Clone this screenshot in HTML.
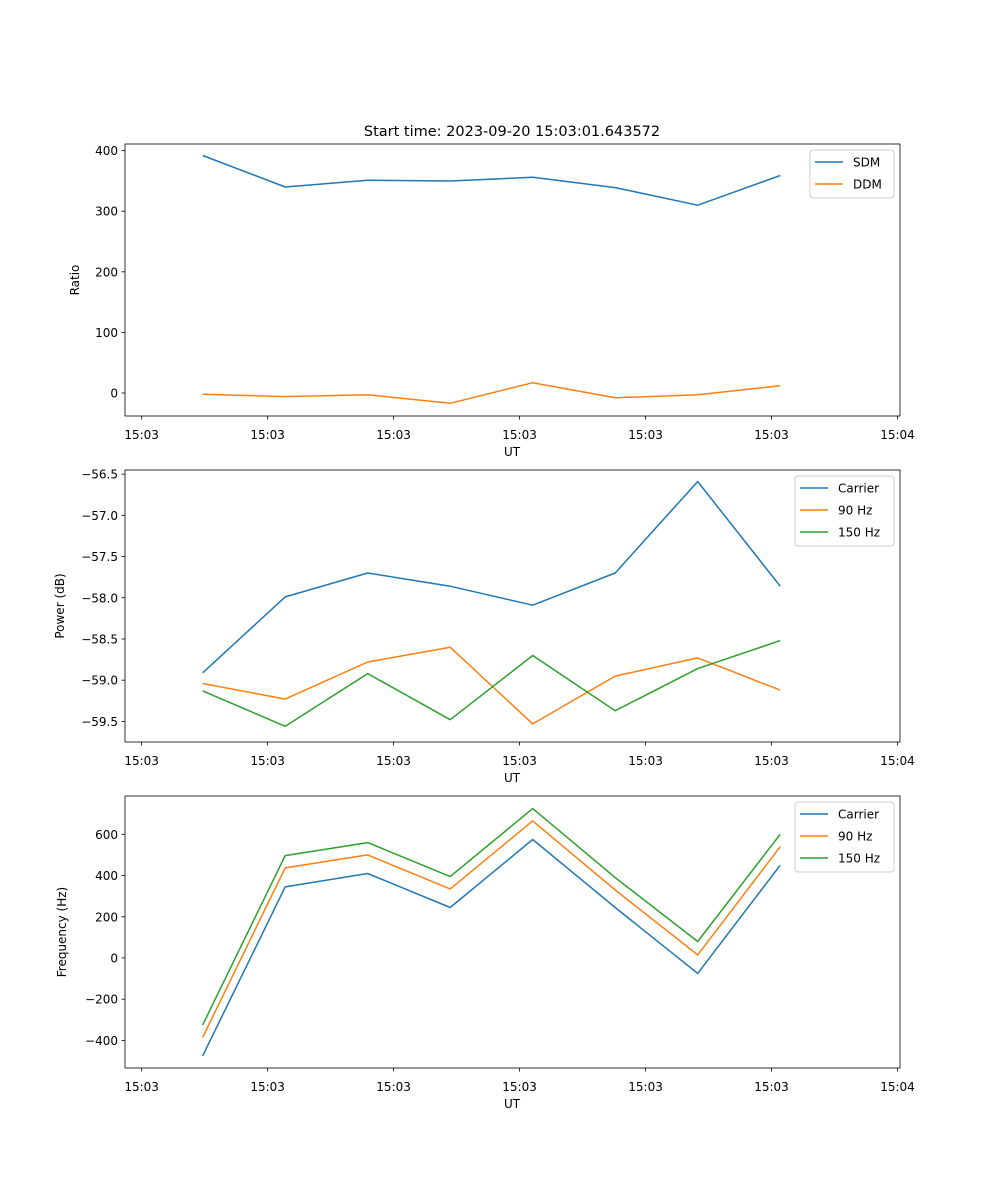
<!DOCTYPE html>
<html><head><meta charset="utf-8"><style>
body{margin:0;background:#fff}
svg{display:block;font-family:"DejaVu Sans","Liberation Sans",sans-serif}
</style></head><body>
<svg id="fig" width="1000" height="1200" viewBox="0 0 1000 1200" xmlns="http://www.w3.org/2000/svg">
<rect width="1000" height="1200" fill="#fff"/>
<text x="512" y="136" font-size="14.5" text-anchor="middle">Start time: 2023-09-20 15:03:01.643572</text>
</svg>
<script>
const sampleIdx=[0,1,2,3,4,5,6,7];
const xTickVals=[-0.74,0.787,2.314,3.841,5.368,6.895,8.422];
const xTickLabels=["15:03","15:03","15:03","15:03","15:03","15:03","15:04"];
const sdm=[392,340,351,350,356,339,310,359];
const ddm=[-2,-6,-3,-17,17,-8,-3,12];
const ratioTicks=[0,100,200,300,400];
const pCarrier=[-58.91,-57.99,-57.70,-57.86,-58.09,-57.70,-56.59,-57.86];
const p90=[-59.04,-59.23,-58.78,-58.60,-59.53,-58.95,-58.73,-59.12];
const p150=[-59.13,-59.56,-58.92,-59.48,-58.70,-59.37,-58.86,-58.52];
const powerTicks=[-59.5,-59.0,-58.5,-58.0,-57.5,-57.0,-56.5];
const fCarrier=[-475,345,410,245,575,245,-75,450];
const f90=[-385,437,500,335,665,330,15,540];
const f150=[-325,497,560,395,725,390,80,600];
const freqTicks=[-400,-200,0,200,400,600];

const NS="http://www.w3.org/2000/svg";
const svg=document.getElementById('fig');
function mk(tag,attrs,parent){const e=document.createElementNS(NS,tag);for(const k in attrs)e.setAttribute(k,attrs[k]);(parent||svg).appendChild(e);return e;}
const L=125,R=900;
function xs(i){return 202.7+(i)*82.5;}
function panel(name,top,bot,ymin,ymax,yTicks,yFmt,ylabel,ylabelX,series,legend){
  const g=mk('g',{});
  
  
  const ys=v=>bot-(v-ymin)/(ymax-ymin)*(bot-top);
  series.forEach(s=>{
    const pts=sampleIdx.map(i=>xs(i).toFixed(1)+','+ys(s.vals[i]).toFixed(1)).join(' ');
    const pl=mk('polyline',{points:pts,fill:'none',stroke:s.color,'stroke-width':1.5,'stroke-linejoin':'round'},g);
    
    
  });
  const fr=mk('rect',{x:L,y:top,width:R-L,height:bot-top,fill:'none',stroke:'#000','stroke-width':0.8},g);
  
  
  xTickVals.forEach((v,j)=>{
    const x=xs(v);
    mk('line',{x1:x,x2:x,y1:bot,y2:bot+3.5,stroke:'#000','stroke-width':0.8},g);
    const t=mk('text',{x:x,y:bot+23,'font-size':12,'text-anchor':'middle'},g);
    t.textContent=xTickLabels[j];
    
    
  });
  const xl=mk('text',{x:512,y:bot+40,'font-size':12,'text-anchor':'middle'},g);
  xl.textContent='UT';
  
  
  yTicks.forEach(v=>{
    const y=ys(v);
    mk('line',{x1:L-3.5,x2:L,y1:y,y2:y,stroke:'#000','stroke-width':0.8},g);
    const t=mk('text',{x:L-7,y:y+4.5,'font-size':12,'text-anchor':'end'},g);
    t.textContent=yFmt(v);
    
    
  });
  const yc=(top+bot)/2;
  const yl=mk('text',{x:ylabelX,y:yc,'font-size':12,'text-anchor':'middle',transform:`rotate(-90 ${ylabelX} ${yc})`},g);
  yl.textContent=ylabel;
  
  
  const lg=mk('g',{},g);
  
  
  mk('rect',{x:legend.x,y:top+6,width:R-6-legend.x,height:series.length*22+4,rx:3,fill:'#fff','fill-opacity':0.8,stroke:'#ccc'},lg);
  series.forEach((s,k)=>{
    const y=top+18+k*22;
    mk('line',{x1:legend.x+5,x2:legend.x+33,y1:y,y2:y,stroke:s.color,'stroke-width':1.5},lg);
    const t=mk('text',{x:legend.x+43,y:y+4.5,'font-size':12},lg);
    t.textContent=s.label;
    
    
  });
}
const B='#1f77b4',O='#ff7f0e',G='#2ca02c';
panel('ratio-panel',144,416,-38,411,ratioTicks,v=>v.toFixed(0).replace('-','−'),'Ratio',79,
  [{id:'sdm',vals:sdm,color:B,label:'SDM'},{id:'ddm',vals:ddm,color:O,label:'DDM'}],{x:810});
panel('power-panel',470,742,-59.75,-56.45,powerTicks,v=>v.toFixed(1).replace('-','−'),'Power (dB)',64,
  [{id:'carrier',vals:pCarrier,color:B,label:'Carrier'},{id:'hz90',vals:p90,color:O,label:'90 Hz'},{id:'hz150',vals:p150,color:G,label:'150 Hz'}],{x:795});
panel('frequency-panel',796,1068,-534,786,freqTicks,v=>v.toFixed(0).replace('-','−'),'Frequency (Hz)',66,
  [{id:'carrier-freq',vals:fCarrier,color:B,label:'Carrier'},{id:'hz90-freq',vals:f90,color:O,label:'90 Hz'},{id:'hz150-freq',vals:f150,color:G,label:'150 Hz'}],{x:795});
</script>
</body></html>
